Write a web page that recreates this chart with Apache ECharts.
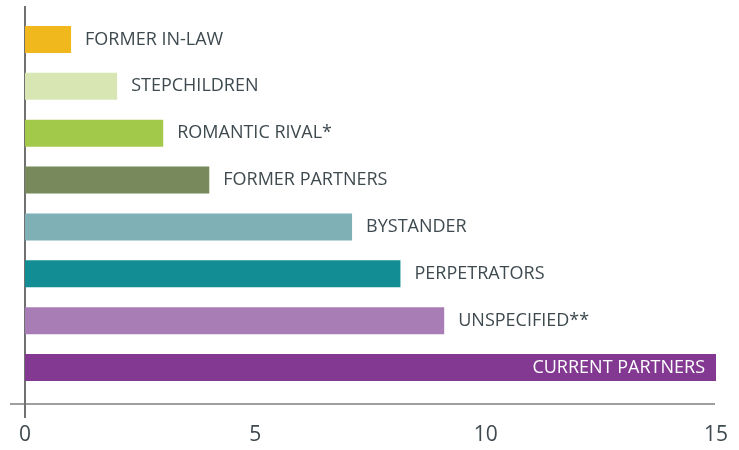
<!DOCTYPE html>
<html>
<head>
<meta charset="utf-8">
<script src="https://cdn.jsdelivr.net/npm/echarts@6/dist/echarts.min.js"></script>
<style>
  html, body { margin: 0; padding: 0; background: #fff; }
  #chart { width: 739px; height: 450px; }
</style>
</head>
<body>
<div id="chart"></div>
<script>
var categories = ['FORMER IN-LAW', 'STEPCHILDREN', 'ROMANTIC RIVAL*', 'FORMER PARTNERS',
  'BYSTANDER', 'PERPETRATORS', 'UNSPECIFIED**', 'CURRENT PARTNERS'];
var values = [1, 2, 3, 4, 7.1, 8.15, 9.1, 15];
var barColors = ['#f0b81c', '#d8e6b4', '#a3c94b', '#788a5b', '#7fb0b6', '#138d94', '#a87db6', '#833891'];
var xTicks = [0, 5, 10, 15];

(function () {
  var chart = echarts.init(document.getElementById('chart'), null, { renderer: 'canvas' });
  var font = '"Open Sans", sans-serif';
  var textColor = '#3e4a4f';

  var data = values.map(function (v, i) {
    var inside = i === values.length - 1;
    return {
      value: v,
      itemStyle: { color: barColors[i] },
      label: inside ? {
        position: 'insideRight',
        distance: 11,
        color: '#ffffff'
      } : {
        position: 'right',
        distance: 14,
        color: textColor
      }
    };
  });

  chart.setOption({
    animation: false,
    grid: { left: 25, right: 23, top: 16, bottom: 59 },
    xAxis: {
      type: 'value',
      min: 0,
      max: 15,
      interval: 5,
      offset: 13,
      axisLine: { show: false },
      axisTick: { show: false },
      splitLine: { show: false },
      axisLabel: {
        margin: 21,
        fontFamily: font,
        fontSize: 21,
        color: textColor,
        formatter: function (v) { return xTicks.indexOf(v) >= 0 ? String(v) : ''; }
      }
    },
    yAxis: {
      type: 'category',
      data: categories,
      inverse: true,
      axisLine: { show: false },
      axisTick: { show: false },
      axisLabel: { show: false }
    },
    graphic: [
      {
        type: 'line',
        shape: { x1: 10, y1: 404, x2: 715, y2: 404 },
        style: { stroke: '#404040', lineWidth: 1.2 }
      },
      {
        type: 'line',
        shape: { x1: 25, y1: 6, x2: 25, y2: 418 },
        style: { stroke: '#707070', lineWidth: 2 }
      }
    ],
    series: [
      {
        type: 'bar',
        data: data,
        barWidth: 27,
        label: {
          show: true,
          fontFamily: font,
          fontSize: 18,
          formatter: function (p) { return categories[p.dataIndex]; }
        }
      }
    ]
  });
})();
</script>
</body>
</html>
